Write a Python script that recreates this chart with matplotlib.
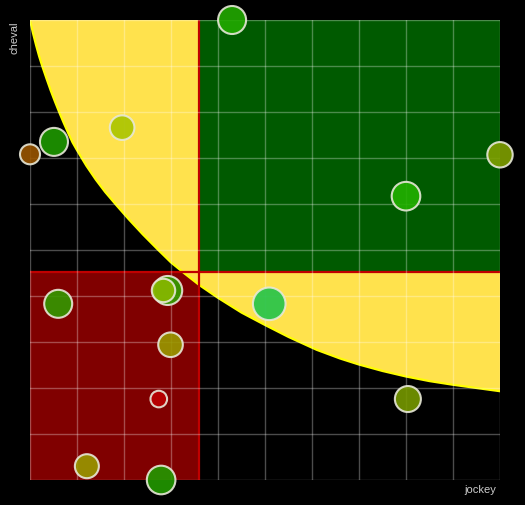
import numpy as np
import matplotlib
matplotlib.use('Agg')
from matplotlib import pyplot as plt
from matplotlib.patches import Rectangle

#################################################
# data (axes 0..10)
#################################################
# frontier curve (yellow zone above it)
curve_x = [0, 0.065, 0.13, 0.195, 0.26, 0.35, 0.44, 0.53, 0.62, 0.715, 0.81, 0.905, 1.0,
           1.2, 1.4, 1.6, 1.85, 2.1, 2.4, 2.72, 3.0, 3.3, 3.6, 4.0, 4.5, 5.0, 5.5, 6.1,
           6.6, 7.0, 7.5, 8.0, 8.5, 9.0, 9.5, 10]
curve_y = [10, 9.71, 9.45, 9.21, 9.0, 8.73, 8.47, 8.23, 8.0, 7.77, 7.55, 7.34, 7.17,
           6.83, 6.53, 6.26, 5.96, 5.67, 5.34, 5.01, 4.73, 4.48, 4.24, 3.96, 3.64, 3.37, 3.11, 2.83,
           2.64, 2.51, 2.37, 2.25, 2.15, 2.07, 2.0, 1.93]

# quadrant limits
seuil_jockey = 3.6
seuil_cheval = 4.52

# couples jockey / cheval
jockey = [4.30, 0.51, 0.0, 1.96, 10.0, 8.0, 2.93, 2.84, 0.60, 5.09, 2.99, 2.74, 8.04, 1.21, 2.79]
cheval = [10.0, 7.35, 7.08, 7.66, 7.07, 6.17, 4.12, 4.12, 3.83, 3.83, 2.94, 1.76, 1.76, 0.30, 0.0]
rayon = [14, 14, 10, 12.3, 12.7, 14.3, 14.5, 11.7, 14, 16.3, 12.3, 8.3, 13, 12, 14.3]
couleurs = ['#22aa00', '#1f9900', '#995500', '#aac400', '#7fa000', '#22b000', '#33a000',
            '#88b800', '#339900', '#22c34a', '#999900', '#bb0000', '#779900', '#999900', '#229900']

#figure
fig = plt.figure(figsize=(5.25, 5.05), dpi=100, facecolor='black')
ax = fig.add_axes([30/525, 25/505, 470/525, 460/505])
ax.set_facecolor('black')
ax.set_xlim(0, 10)
ax.set_ylim(0, 10)

#zones
ax.add_patch(Rectangle((0, 0), seuil_jockey, seuil_cheval, facecolor='#800000',
                       edgecolor='none', zorder=1))
ax.fill_between(curve_x, curve_y, 10, facecolor='#ffe24d', edgecolor='none', zorder=2)
ax.plot(curve_x, curve_y, color='#ffff00', lw=1.6, zorder=2.5)
ax.add_patch(Rectangle((seuil_jockey, seuil_cheval), 10 - seuil_jockey, 10 - seuil_cheval,
                       facecolor='#005a00', edgecolor='none', zorder=3))
ax.axvline(seuil_jockey, color='#c00000', lw=1.6, zorder=4)
ax.axhline(seuil_cheval, color='#c00000', lw=1.6, zorder=4)

#grid
for v in range(11):
    ax.axvline(v, color='white', alpha=0.3, lw=1, zorder=5)
    ax.axhline(v, color='white', alpha=0.3, lw=1, zorder=5)

#points
s = [(2 * r * 0.72) ** 2 for r in rayon]
ax.scatter(jockey, cheval, s=s, c=couleurs, edgecolors='#e8e8d8', linewidths=1.5,
           alpha=0.9, zorder=6, clip_on=False)

for sp in ax.spines.values():
    sp.set_visible(False)
ax.set_xticks([])
ax.set_yticks([])

fig.text(15/525, 1 - 38/505, 'cheval', rotation=90, color='#cccccc', fontsize=8,
         family='Liberation Sans', ha='center', va='center')
fig.text(496/525, 1 - 490/505, 'jockey', color='#cccccc', fontsize=8,
         family='Liberation Sans', ha='right', va='center')

fig.savefig('out.png', dpi=100, facecolor='black')
